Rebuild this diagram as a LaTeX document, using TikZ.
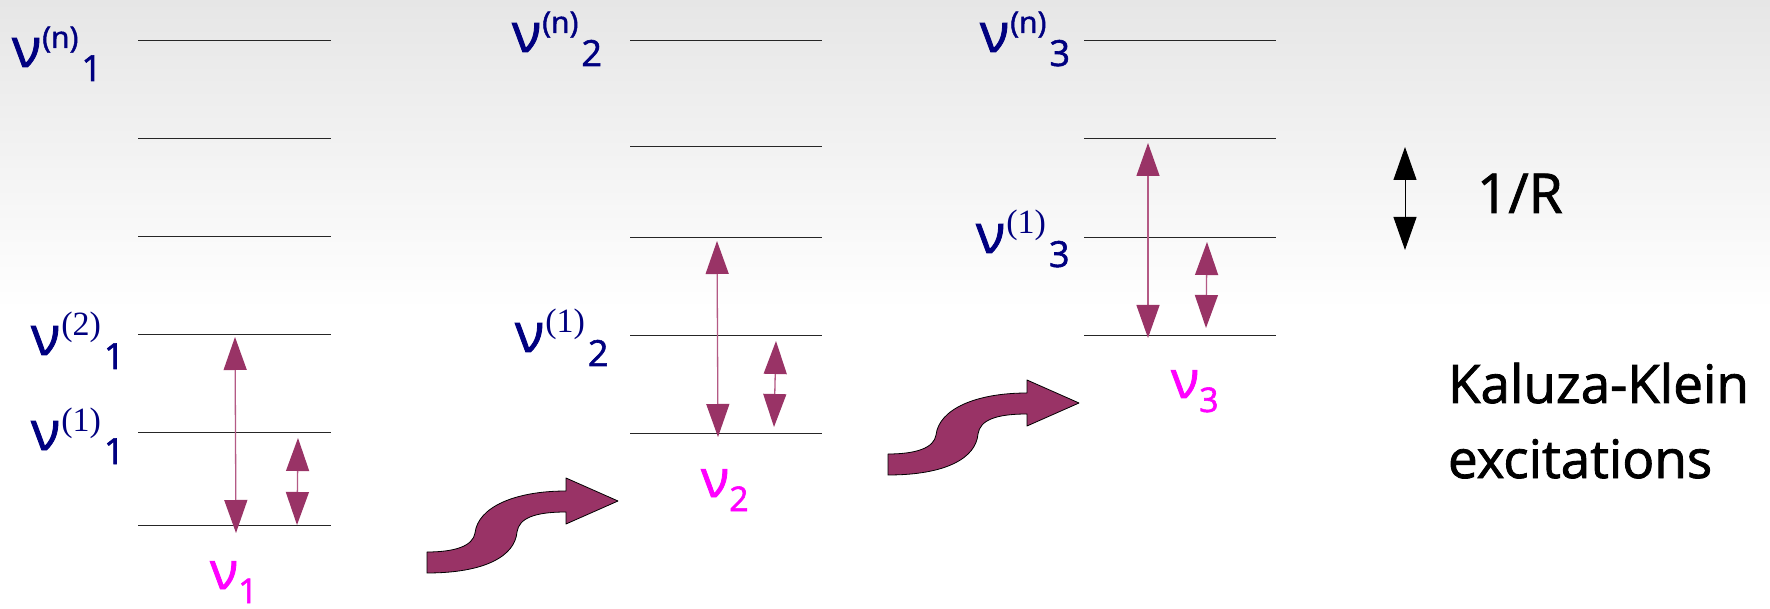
\documentclass[tikz,border=0pt]{standalone}
\usepackage{fontspec}
\setmainfont{Open Sans}[FakeBold=1.6,AutoFakeBold=1.6]
\newfontfamily\serifpart{Liberation Serif}
\usetikzlibrary{arrows.meta}
\definecolor{kknavy}{HTML}{000080}
\definecolor{kkmag}{HTML}{FF00FF}
\definecolor{kkplum}{HTML}{993366}
\definecolor{kkshaft}{HTML}{B45A85}
\definecolor{kkbg}{HTML}{E6E6E6}
\newcommand\kkl[2]{{\fontsize{54}{54}\selectfont ν}\kern1pt\raisebox{19pt}{\fontsize{30}{30}\selectfont #1}\kern3pt\raisebox{-14pt}{\fontsize{36}{36}\selectfont #2}}
\newcommand\kkm[1]{{\fontsize{52}{52}\selectfont ν}\raisebox{-14pt}{\fontsize{34}{34}\selectfont #1}}
\begin{document}
\begin{tikzpicture}[x=1pt,y=-1pt,
  lvl/.style={draw=black!85,line width=1pt},
  lbl/.style={anchor=base west,inner sep=0pt,outer sep=0pt,text=kknavy,font=\bfseries},
  mlbl/.style={anchor=base west,inner sep=0pt,outer sep=0pt,text=kkmag,font=\bfseries},
  txt/.style={anchor=base west,inner sep=0pt,outer sep=0pt,text=black},
  trans/.style={draw=kkshaft,line width=1.3pt,
    {Triangle[width=23pt,length=33pt,color=kkplum]}-{Triangle[width=23pt,length=33pt,color=kkplum]}},
  kkscale/.style={draw=black,line width=1pt,
    {Triangle[width=23pt,length=33pt,color=black]}-{Triangle[width=23pt,length=33pt,color=black]}},
  bigarrow/.style={fill=kkplum,draw=black,line width=0.8pt,line join=round}]
\useasboundingbox (0,0) rectangle (1770,609);
\shade[top color=kkbg,bottom color=white] (0,0) rectangle (1770,310);
\fill[white] (0,310) rectangle (1770,609);
% level lines column 1
\foreach \y in {41,139,237,335,433,525} \draw[lvl] (138,\y) -- (331,\y);
% column 2
\foreach \y in {41,147,238,336,434} \draw[lvl] (630,\y) -- (822,\y);
% column 3
\foreach \y in {41,139,238,336} \draw[lvl] (1084,\y) -- (1276,\y);
% arrow end points
\coordinate (a1t) at (235,337); \coordinate (a1b) at (236,533);
\coordinate (s1t) at (298,438); \coordinate (s1b) at (297,525);
\coordinate (a2t) at (717,241); \coordinate (a2b) at (718,437);
\coordinate (s2t) at (776,341); \coordinate (s2b) at (774,427);
\coordinate (a3t) at (1148,143); \coordinate (a3b) at (1148,338);
\coordinate (s3t) at (1207,242); \coordinate (s3b) at (1206,328);
\coordinate (rt) at (1405,147); \coordinate (rb) at (1405,250);
\draw[trans] (a1t) -- (a1b);
\draw[trans] (s1t) -- (s1b);
\draw[trans] (a2t) -- (a2b);
\draw[trans] (s2t) -- (s2b);
\draw[trans] (a3t) -- (a3b);
\draw[trans] (s3t) -- (s3b);
\draw[kkscale] (rt) -- (rb);
% big S arrows
\foreach \dx/\dy in {0/0,461/-98}{
\begin{scope}[shift={(\dx,\dy)}]
\draw[bigarrow] (427,552) .. controls (455,552) and (473,546) .. (475,533)
  .. controls (478,507) and (515,491) .. (566,491) -- (566,478) -- (618,501)
  -- (566,524) -- (566,512) .. controls (535,512) and (519,518) .. (517,532)
  .. controls (515,556) and (485,573) .. (427,573) -- cycle;
\end{scope}}
% labels
\node[lbl] (ln1) at (12,67) {\kkl{(n)}{1}};
\node[lbl] (l21) at (31,355) {\kkl{\fontsize{34}{34}\serifpart\mdseries (2)}{1}};
\node[lbl] (l11) at (31,450) {\kkl{\fontsize{34}{34}\serifpart\mdseries (1)}{1}};
\node[lbl] (ln2) at (512,52) {\kkl{(n)}{2}};
\node[lbl] (l12) at (515,352) {\kkl{\fontsize{34}{34}\serifpart\mdseries (1)}{2}};
\node[lbl] (ln3) at (980,52) {\kkl{(n)}{3}};
\node[lbl] (l13) at (976,253) {\kkl{\fontsize{34}{34}\serifpart\mdseries (1)}{3}};
\node[mlbl] (m1) at (210,589) {\kkm{1}};
\node[mlbl] (m2) at (701,497) {\kkm{2}};
\node[mlbl] (m3) at (1171,398) {\kkm{3}};
\node[txt,font=\fontsize{55}{55}\selectfont\bfseries] (oneR) at (1477,213) {1/R};
\node[txt,font=\fontsize{53}{53}\selectfont\bfseries] (kk) at (1448,403) {Kaluza-Klein};
\node[txt,font=\fontsize{53}{53}\selectfont\bfseries] (exc) at (1448,478) {excitations};
\end{tikzpicture}
\end{document}
